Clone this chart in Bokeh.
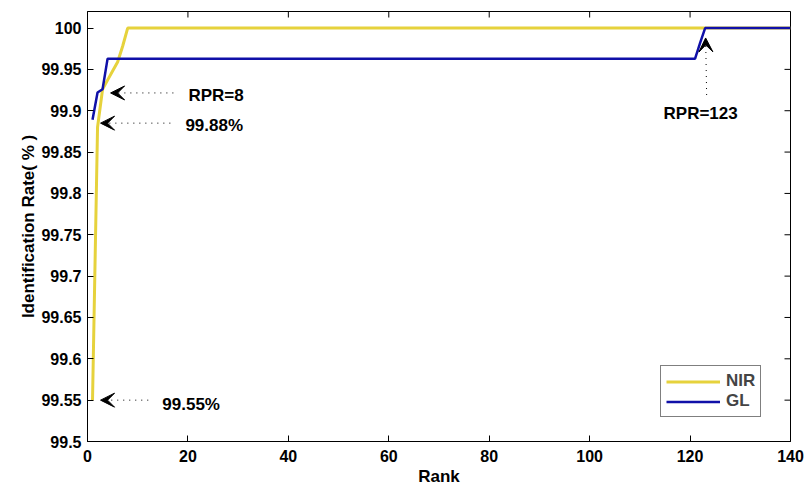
import math
from bokeh.plotting import figure
from bokeh.models import (ColumnDataSource, Range1d, FixedTicker, Arrow,
                          VeeHead, Legend, LegendItem, Label)
from bokeh.embed import file_html
from bokeh.resources import INLINE

# ---------------- data ----------------
nir_rank = [1, 2, 3, 4, 5, 6, 7, 8, 140]
nir_rate = [99.55, 99.88, 99.926, 99.937, 99.948, 99.959, 99.978, 100.0, 100.0]

gl_rank = [1, 2, 3, 4, 121, 122, 123, 140]
gl_rate = [99.889, 99.922, 99.926, 99.963, 99.963, 99.982, 100.0, 100.0]

x_ticks = [0, 20, 40, 60, 80, 100, 120, 140]
y_ticks = [99.5, 99.55, 99.6, 99.65, 99.7, 99.75, 99.8, 99.85, 99.9, 99.95, 100.0]

# annotations: (text, arrow tail x, tail y, tip x, tip y, text x, text y)
ann_texts = ["RPR=8", "99.88%", "99.55%", "RPR=123"]
ann_tail_x = [17.1, 16.5, 12.1, 123.3]
ann_tail_y = [99.9215, 99.885, 99.55, 99.919]
ann_tip_x = [4.6, 2.6, 2.6, 123.1]
ann_tip_y = [99.9215, 99.885, 99.55, 99.988]
ann_text_x = [20.1, 19.5, 14.9, 122.1]
ann_text_y = [99.919, 99.882, 99.545, 99.897]
ann_align = ["left", "left", "left", "center"]

X_MIN, X_MAX = 0, 140
Y_MIN, Y_MAX = 99.5, 100.02

FONT = "Liberation Sans"

p = figure(width=805, height=488, output_backend="svg", toolbar_location=None,
           x_range=Range1d(X_MIN, X_MAX), y_range=Range1d(Y_MIN, Y_MAX),
           min_border_left=87, min_border_right=15, min_border_top=11, min_border_bottom=46)

p.xgrid.visible = False
p.ygrid.visible = False
p.outline_line_color = "black"
p.outline_line_width = 1
p.background_fill_color = "white"
p.border_fill_color = "white"

for ax in (p.xaxis[0], p.yaxis[0]):
    ax.major_label_text_font = FONT
    ax.major_label_text_font_style = "bold"
    ax.major_label_text_font_size = "16px"
    ax.major_label_text_color = "black"
    ax.axis_label_text_font = FONT
    ax.axis_label_text_font_style = "bold"
    ax.axis_label_text_font_size = "17px"
    ax.axis_label_text_color = "black"
    ax.major_tick_in = 6
    ax.major_tick_out = 0
    ax.minor_tick_in = 0
    ax.minor_tick_out = 0
    ax.axis_line_color = "black"
    ax.major_tick_line_color = "black"

p.xaxis[0].ticker = FixedTicker(ticks=x_ticks)
p.yaxis[0].ticker = FixedTicker(ticks=y_ticks)
p.yaxis[0].major_label_overrides = {v: ("100" if v == 100 else f"{v:g}") for v in y_ticks}
p.xaxis[0].axis_label = "Rank"
p.yaxis[0].axis_label = "Identification Rate( % )"
p.xaxis[0].major_label_standoff = 8
p.xaxis[0].axis_label_standoff = 2
p.yaxis[0].major_label_standoff = 6
p.yaxis[0].axis_label_standoff = 0

# mirrored tick marks on the top and right edges (box on); half of each dash is clipped by the frame
p.scatter(x=x_ticks, y=[Y_MAX] * len(x_ticks), marker="dash", angle=math.pi / 2,
          size=12, line_color="black", line_width=1)
p.scatter(x=[X_MAX] * len(y_ticks), y=y_ticks, marker="dash",
          size=12, line_color="black", line_width=1)

nir_src = ColumnDataSource(dict(x=nir_rank, y=nir_rate))
gl_src = ColumnDataSource(dict(x=gl_rank, y=gl_rate))
r_nir = p.line("x", "y", source=nir_src, line_color="#E6D23C", line_width=3)
r_gl = p.line("x", "y", source=gl_src, line_color="#1010A8", line_width=2.5)

for i in range(len(ann_texts)):
    p.add_layout(Arrow(end=VeeHead(size=14, fill_color="black", line_color="black"),
                       x_start=ann_tail_x[i], y_start=ann_tail_y[i],
                       x_end=ann_tip_x[i], y_end=ann_tip_y[i],
                       line_color="black", line_width=1, line_dash="1 5"))
    p.add_layout(Label(x=ann_text_x[i], y=ann_text_y[i], text=ann_texts[i],
                       text_font=FONT, text_font_style="bold", text_font_size="17px",
                       text_align=ann_align[i], text_baseline="middle", text_color="black"))

legend = Legend(items=[LegendItem(label="NIR", renderers=[r_nir]),
                       LegendItem(label="GL", renderers=[r_gl])],
                location=(573, 24), glyph_width=54, glyph_height=15, label_standoff=6,
                padding=5, spacing=0, margin=0, label_height=15,
                label_text_font=FONT, label_text_font_style="bold",
                label_text_font_size="17px", border_line_color="black",
                border_line_width=1, background_fill_alpha=1)
p.add_layout(legend, "center")

open("out.html", "w").write(file_html(p, INLINE))
